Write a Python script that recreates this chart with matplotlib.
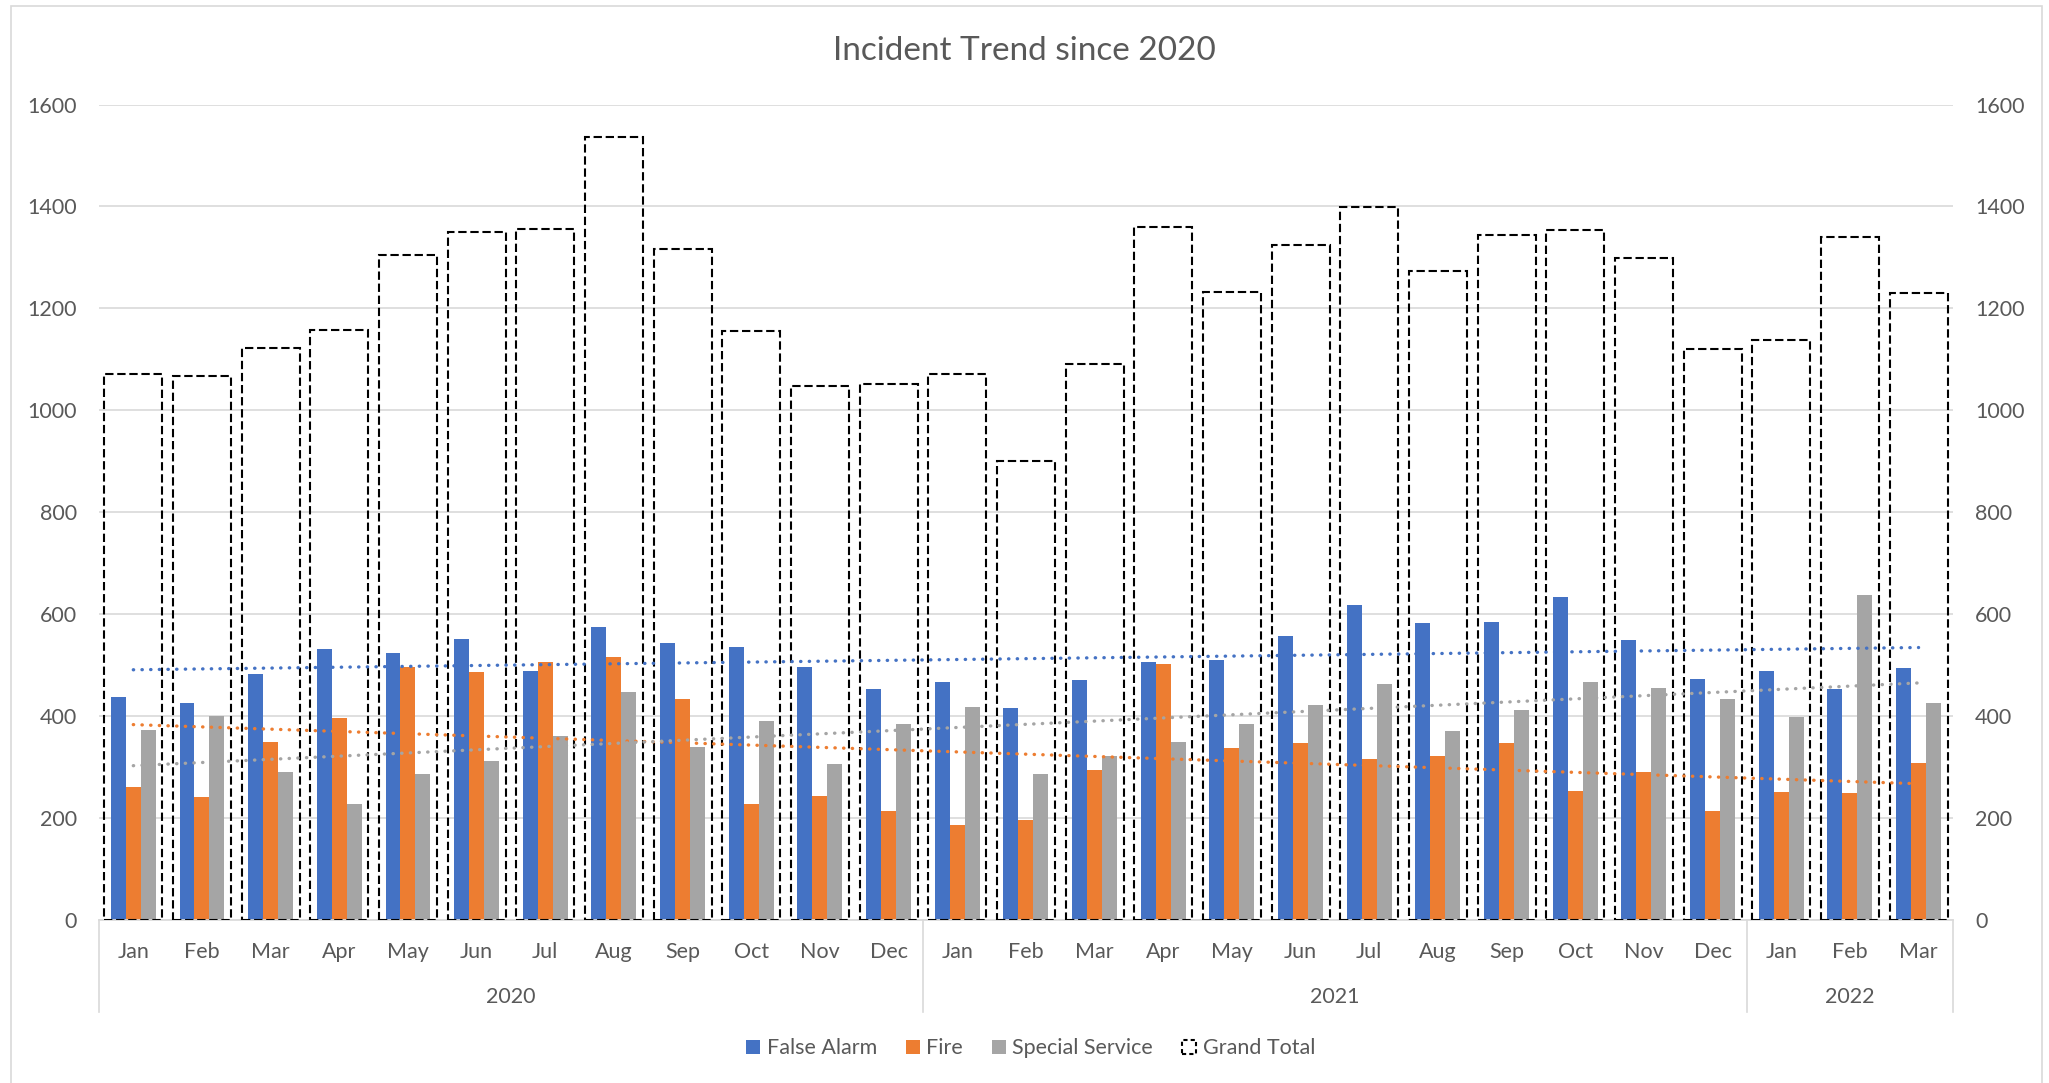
import numpy as np
from matplotlib import pyplot as plt
from matplotlib.patches import Patch, Rectangle

plt.rcParams['font.family'] = ['Lato', 'DejaVu Sans']

months = ["Jan", "Feb", "Mar", "Apr", "May", "Jun", "Jul", "Aug", "Sep", "Oct", "Nov", "Dec",
          "Jan", "Feb", "Mar", "Apr", "May", "Jun", "Jul", "Aug", "Sep", "Oct", "Nov", "Dec",
          "Jan", "Feb", "Mar"]
years = ["2020", "2021", "2022"]
year_counts = [12, 12, 3]

false_alarm = [438, 426, 483, 532, 523, 551, 488, 574, 544, 536, 496, 453,
               466, 415, 471, 506, 510, 557, 619, 582, 584, 633, 549, 473,
               488, 454, 494]
fire = [261, 241, 349, 396, 496, 486, 506, 516, 433, 228, 244, 213,
        186, 197, 295, 502, 337, 347, 316, 322, 347, 253, 291, 213,
        252, 249, 309]
special_service = [372, 401, 291, 228, 287, 312, 361, 448, 339, 391, 307, 385,
                   418, 287, 321, 350, 385, 421, 463, 370, 412, 467, 456, 434,
                   398, 637, 426]
grand_total = [1072, 1068, 1123, 1158, 1305, 1350, 1356, 1537, 1316, 1156, 1047, 1052,
               1072, 900, 1090, 1360, 1233, 1325, 1398, 1274, 1344, 1354, 1298, 1121,
               1138, 1341, 1230]

colors = ["#4472C4", "#ED7D31", "#A5A5A5"]
names = ["False Alarm", "Fire", "Special Service"]
series = [false_alarm, fire, special_service]
txt = "#595959"
grid = "#D9D9D9"
fs = 15.5

fig = plt.figure(figsize=(20.49, 10.83), dpi=100)
ax = fig.add_axes([0.0483, 0.1505, 0.9048, 0.753])
ax2 = ax.twinx()

x = np.arange(len(months))
w = 0.218
for i in range(3):
    ax.bar(x + (i - 1) * w, series[i], width=w, color=colors[i], zorder=2)

ax2.bar(x, grand_total, width=0.845, facecolor="none", edgecolor="black",
        linewidth=1.5, linestyle=(0, (4, 1.8)), zorder=3)

# linear trendlines like excel
for i in range(3):
    k, b = np.polyfit(x, series[i], 1)
    ax2.plot([x[0], x[-1]], [k * x[0] + b, k * x[-1] + b], color=colors[i],
             linewidth=2.4, linestyle=(0, (0.1, 2.5)), dash_capstyle="round", zorder=4)

for a in (ax, ax2):
    a.set_ylim(0, 1600)
    a.set_yticks(range(0, 1601, 200))
    a.set_xlim(-0.5, len(months) - 0.5)
    a.tick_params(axis="y", length=0, pad=16, labelsize=fs, labelcolor=txt)
    for s in a.spines.values():
        s.set_visible(False)
ax.spines["bottom"].set_visible(True)
ax.spines["bottom"].set_color(grid)
ax.spines["bottom"].set_linewidth(1.2)
ax.yaxis.grid(True, color=grid, linewidth=1.2, zorder=0)
ax.set_axisbelow(True)
ax.set_xticks([])

trans = ax.get_xaxis_transform()
for i, m in enumerate(months):
    ax.text(i, -0.039, m, transform=trans, ha="center", va="center", fontsize=fs, color=txt)

start = 0
seps = [-0.5]
for y, n in zip(years, year_counts):
    ax.text(start + (n - 1) / 2, -0.0944, y, transform=trans, ha="center", va="center",
            fontsize=fs, color=txt)
    start += n
    seps.append(start - 0.5)
for s in seps:
    ax.plot([s, s], [0, -0.1128], transform=trans, color=grid, linewidth=1.2, clip_on=False)

fig.text(0.5, 0.953, "Incident Trend since 2020", ha="center", va="center", fontsize=24, color=txt)

handles = [Patch(facecolor=c, edgecolor="none") for c in colors]
handles.append(Patch(facecolor="none", edgecolor="black", linestyle=(0, (2, 1.5)), linewidth=1.5))
leg = fig.legend(handles, names + ["Grand Total"], loc="center", bbox_to_anchor=(0.503, 0.032),
                 ncol=4, frameon=False, fontsize=fs, handlelength=0.65, handleheight=0.65,
                 handletextpad=0.3, columnspacing=1.34)
for t in leg.get_texts():
    t.set_color(txt)

fig.add_artist(Rectangle((0.00537, -0.01), 0.99121, 1.00446, transform=fig.transFigure,
                         facecolor="none", edgecolor=grid, linewidth=1.2))

plt.savefig("out.png", dpi=100)
